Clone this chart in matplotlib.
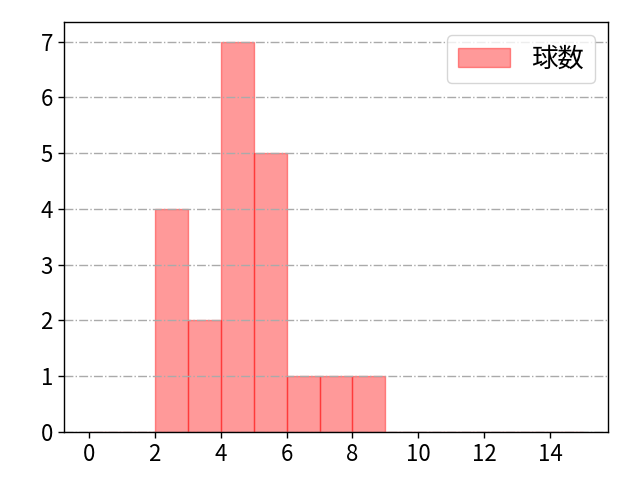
import matplotlib
matplotlib.use("Agg")
import matplotlib.pyplot as plt
import numpy as np

plt.rcParams['font.family'] = ['Noto Sans CJK JP', 'DejaVu Sans']

bin_edges = list(range(0, 16))
bin_lefts = [2, 3, 4, 5, 6, 7, 8]
counts = [4, 2, 7, 5, 1, 1, 1]
label = "球数"

fig, ax = plt.subplots(figsize=(6.4, 4.8), dpi=100)
ax.hist(bin_lefts, bins=bin_edges, weights=counts, color='red', alpha=0.4,
        edgecolor='red', label=label)
ax.grid(axis='y', linestyle='-.', color='#aaaaaa', linewidth=1.0)
ax.set_xticks(range(0, 16, 2))
ax.tick_params(labelsize=16, length=4.5, width=1.0)
for s in ax.spines.values():
    s.set_linewidth(1.0)
ax.legend(loc='upper right', fontsize=19)
fig.subplots_adjust(left=0.1, right=0.95, top=0.954, bottom=0.1)
fig.savefig("out.png")
